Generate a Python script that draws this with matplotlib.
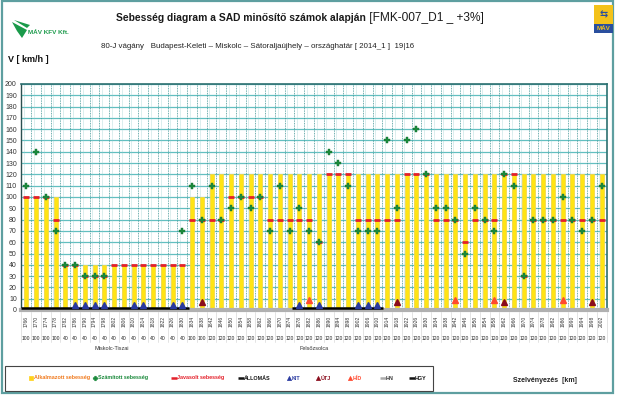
import matplotlib
matplotlib.use("Agg")
import matplotlib.pyplot as plt
from matplotlib.patches import Rectangle, Polygon
from matplotlib.lines import Line2D
import matplotlib.transforms as mtrans

plt.rcParams['font.family'] = ['Liberation Sans', 'DejaVu Sans']

# ---------------- data ----------------
km_labels = ["1766", "1770", "1774", "1778", "1782", "1786", "1790", "1794", "1798", "1802",
             "1806", "1810", "1814", "1818", "1822", "1826", "1830", "1834", "1838", "1842",
             "1846", "1850", "1854", "1858", "1862", "1866", "1870", "1874", "1878", "1882",
             "1886", "1890", "1894", "1898", "1902", "1906", "1910", "1914", "1918", "1922",
             "1926", "1930", "1934", "1938", "1942", "1946", "1950", "1954", "1958", "1962",
             "1966", "1970", "1974", "1978", "1982", "1986", "1990", "1994", "1998", "2002"]

alkalmazott = [100, 100, 100, 100, 40, 40, 40, 40, 40, 40,
               40, 40, 40, 40, 40, 40, 40, 100, 100, 120,
               120, 120, 120, 120, 120, 120, 120, 120, 120, 120,
               120, 120, 120, 120, 120, 120, 120, 120, 120, 120,
               120, 120, 120, 120, 120, 120, 120, 120, 120, 120,
               120, 120, 120, 120, 120, 120, 120, 120, 120, 120]

szamitott = [110, 140, 100, 70, 40, 40, 30, 30, 30, None,
             None, None, None, None, None, None, 70, 110, 80, 110,
             80, 90, 100, 90, 100, 70, 110, 70, 90, 70,
             60, 140, 130, 110, 70, 70, 70, 150, 90, 150,
             160, 120, 90, 90, 80, 50, 90, 80, 70, 120,
             110, 30, 80, 80, 80, 100, 80, 70, 80, 110]

javasolt = [100, 100, 100, 80, 40, 40, 30, 30, 30, 40,
            40, 40, 40, 40, 40, 40, 40, 80, 80, 80,
            80, 100, 100, 100, 100, 80, 80, 80, 80, 80,
            60, 120, 120, 120, 80, 80, 80, 80, 80, 120,
            120, 120, 80, 80, 80, 60, 80, 80, 80, 120,
            120, 30, 80, 80, 80, 80, 80, 80, 80, 80]

kit_cols = [5, 6, 7, 8, 11, 12, 15, 16, 28, 30, 34, 35, 36]
utj_cols = [18, 38, 49, 58]
hid_cols = [29, 44, 48, 55]
allomas_spans = [(-0.6, 16.7), (27.2, 36.6)]
station_names = ["Miskolc-Tiszai", "Felsőzsolca"]
station_label_pos = [7.0, 28.0]

title_bold = "Sebesség diagram a SAD minősítő számok alapján"
title_norm = " [FMK-007_D1 _ +3%]"
subtitle = "80-J vágány   Budapest-Keleti – Miskolc – Sátoraljaújhely – országhatár [ 2014_1 ]  19|16"

# ---------------- figure ----------------
W, H = 620, 395
fig = plt.figure(figsize=(6.2, 3.95), dpi=100)

def fx(x):
    return x / W

def fy(y):
    return 1 - y / H

ax = fig.add_axes([fx(21), fy(310), fx(607) - fx(21), fy(84) - fy(310)])
n = len(alkalmazott)
xs = list(range(n))
ax.set_xlim(-0.55, n - 0.45)
ax.set_ylim(0, 200)

# grid
for v in range(10, 201, 10):
    ax.axhline(v, color='#62bfc0', lw=0.9, zorder=1)
for i in range(n):
    ax.axvline(i + 0.5, color='#3f9494', lw=0.6, ls=(0, (1, 1)), zorder=1)
    ax.axvline(i - 0.22, color='#8cc9c9', lw=0.4, ls=(0, (1, 1)), zorder=1)

# bars
ax.bar(xs, alkalmazott, width=0.42, color='#ffe414', edgecolor='#f2d84a', lw=0.6, zorder=2)

# stations
for a, b in allomas_spans:
    ax.plot([a, b], [2, 2], color='black', lw=1.8, solid_capstyle='butt', zorder=3)

# javasolt
jx = [i for i, v in enumerate(javasolt) if v is not None]
jy = [javasolt[i] for i in jx]
ax.plot(jx, jy, ls='none', marker='_', markersize=5, mew=2.0, color='#e4202a', zorder=4)

# szamitott
sx = [i for i, v in enumerate(szamitott) if v is not None]
sy = [szamitott[i] for i in sx]
ax.plot(sx, sy, ls='none', marker='P', markersize=4.6, color='#1b8a3c', mec='#157030', mew=0.3, zorder=5)

# triangles
ax.plot(kit_cols, [4.5] * len(kit_cols), ls='none', marker='^', markersize=4, color='#2a3aa0', zorder=6)
ax.plot(utj_cols, [7] * len(utj_cols), ls='none', marker='^', markersize=4, color='#8a0c1c', zorder=6)
ax.plot(hid_cols, [9] * len(hid_cols), ls='none', marker='^', markersize=4, color='#ff4a30', zorder=6)

# axes styling
ax.set_xticks([])
ax.set_yticks(range(0, 201, 10))
ax.tick_params(axis='y', labelsize=5, length=0, pad=3, colors='#333333')
ax.spines['top'].set_color('#2c6f70')
ax.spines['top'].set_linewidth(1.2)
ax.spines['right'].set_color('#2c6f70')
ax.spines['right'].set_linewidth(1.2)
ax.spines['left'].set_color('#2b4f50')
ax.spines['left'].set_linewidth(1.0)
ax.spines['bottom'].set_color('#b0b0b0')
ax.spines['bottom'].set_linewidth(3.0)

# x labels
trans = mtrans.blended_transform_factory(ax.transData, ax.transAxes)
for i in range(n):
    ax.text(i, -0.025, km_labels[i], transform=trans, rotation=90, ha='center', va='top',
            fontsize=3.6, color='#333333')
    ax.text(i, -0.115, str(alkalmazott[i]), transform=trans, ha='center', va='top',
            fontsize=3.6, color='#222222')
for name, p in zip(station_names, station_label_pos):
    ax.text(p, -0.16, name, transform=trans, ha='left', va='top', fontsize=4, color='#333333')
for i in range(n + 1):
    ax.plot([i - 0.5, i - 0.5], [-0.01, -0.14], transform=trans, color='#d0d0d0', lw=0.4,
            clip_on=False)

# titles
fig.text(fx(366), fy(18), title_bold, ha='right', va='center', fontsize=7.4, fontweight='bold', color='#1a1a1a')
fig.text(fx(366), fy(18), title_norm, ha='left', va='center', fontsize=8.6, color='#1a1a1a')
fig.text(fx(258), fy(46), subtitle, ha='center', va='center', fontsize=5.7, color='#222222')
fig.text(fx(8), fy(60), "V [ km/h ]", ha='left', va='center', fontsize=6.5, fontweight='bold', color='#111111')

# outer frame
fig.patches.append(Rectangle((fx(2), fy(393)), fx(613) - fx(2), fy(1) - fy(393), transform=fig.transFigure,
                             fill=False, edgecolor='#5e9fa0', lw=1.6))

# MAV KFV logo
fig.patches.append(Polygon([(fx(12), fy(22)), (fx(27), fy(30)), (fx(22), fy(38)), (fx(17), fy(31))],
                           closed=True, transform=fig.transFigure, facecolor='#1a9a4a', edgecolor='none'))
fig.patches.append(Polygon([(fx(14), fy(20)), (fx(30), fy(25)), (fx(27), fy(28))],
                           closed=True, transform=fig.transFigure, facecolor='#1a9a4a', edgecolor='none'))
fig.text(fx(28), fy(33), "MÁV KFV Kft.", ha='left', va='center', fontsize=4.6, fontweight='bold', color='#1a9a4a')

# MAV logo top right
fig.patches.append(Rectangle((fx(594), fy(24)), fx(19), fy(5) - fy(24), transform=fig.transFigure,
                             facecolor='#f3c21a', edgecolor='none'))
fig.patches.append(Rectangle((fx(594), fy(33)), fx(19), fy(24) - fy(33), transform=fig.transFigure,
                             facecolor='#2a4f9e', edgecolor='none'))
fig.text(fx(603.5), fy(14.5), "⇆", ha='center', va='center', fontsize=7, color='#2a4f9e', fontweight='bold',
         family=['DejaVu Sans'])
fig.text(fx(603.5), fy(28.5), "MÁV", ha='center', va='center', fontsize=4.5, color='#f3c21a', fontweight='bold')

# legend box
fig.patches.append(Rectangle((fx(5), fy(391)), fx(433) - fx(5), fy(366) - fy(391), transform=fig.transFigure,
                             fill=False, edgecolor='#444444', lw=0.8))
ly = fy(378)
leg_items = [
    (31, 's', '#ffd21a', 2.8, "Alkalmazott sebesség", '#f07a1e'),
    (95, 'P', '#1b8a3c', 3.2, "Számított sebesség", '#1b8a3c'),
    (174, '_', '#e4202a', 4.5, "Javasolt sebesség", '#e4202a'),
    (241, '_', '#111111', 4.5, "ÁLLOMÁS", '#111111'),
    (289, '^', '#2a3aa0', 3, "KIT", '#2a3aa0'),
    (318, '^', '#8a0c1c', 3, "ÚTJ", '#8a0c1c'),
    (350, '^', '#ff4a30', 3, "HÍD", '#ff4a30'),
    (383, '_', '#aaaaaa', 4.5, "HN", '#333333'),
    (412, '_', '#111111', 4.5, "HGY", '#111111'),
]
for x, m, c, ms, txt, tc in leg_items:
    fig.add_artist(Line2D([fx(x)], [ly], marker=m, color=c, markersize=ms, mew=1.8 if m == '_' else 0.5,
                          ls='none', transform=fig.transFigure))
    fig.text(fx(x + 3), ly, txt, ha='left', va='center', fontsize=3.9, fontweight='bold', color=tc)

fig.text(fx(513), fy(381), "Szelvényezés  [km]", ha='left', va='center', fontsize=5, fontweight='bold',
         color='#222222')

fig.savefig("out.png", dpi=100, facecolor='white')
